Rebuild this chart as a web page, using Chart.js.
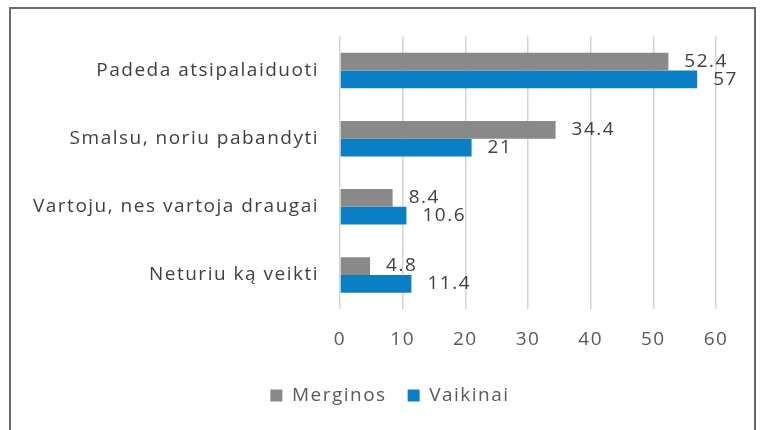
<!DOCTYPE html>
<html>
<head>
<meta charset="utf-8">
<script src="https://cdn.jsdelivr.net/npm/chart.js@4"></script>
<style>
html,body{margin:0;padding:0;background:#fff}
#wrap{position:relative;width:762px;height:430px;overflow:hidden}
#frame{position:absolute;left:9px;top:7px;width:747px;height:440px;border:2px solid #6a6a6a;box-sizing:border-box}
canvas{position:absolute;left:0;top:0}
</style>
</head>
<body>
<div id="wrap">
<div id="frame"></div>
<canvas id="chart" width="762" height="430"></canvas>
</div>
<script>
let categories=["Padeda atsipalaiduoti","Smalsu, noriu pabandyti","Vartoju, nes vartoja draugai","Neturiu ką veikti"]
let merginos=[52.4,34.4,8.4,4.8]
let vaikinai=[57,21,10.6,11.4]
let xTicks=[0,10,20,30,40,50,60]

let fontName="'Open Sans', sans-serif"
let spacing="1.5px"

// the original text is spaced wider, canvas state carries it
let wideText={
id:"wideText",
beforeLayout(chart){chart.ctx.letterSpacing=spacing},
beforeDraw(chart){chart.ctx.letterSpacing=spacing}
}

// labels at the bar ends
let barLabels={
id:"barLabels",
afterDatasetsDraw(chart){
let ctx=chart.ctx
ctx.save()
ctx.letterSpacing=spacing
ctx.font="19px "+fontName
ctx.fillStyle="#404040"
ctx.textAlign="left"
ctx.textBaseline="middle"
chart.data.datasets.forEach((ds,i)=>{
let meta=chart.getDatasetMeta(i)
meta.data.forEach((bar,j)=>{
ctx.fillText(String(ds.data[j]),bar.x+16,bar.y)
})
})
ctx.restore()
}
}

new Chart(document.getElementById("chart"),{
type:"bar",
data:{
labels:categories,
datasets:[
{label:"Merginos",data:merginos,backgroundColor:"#898989",categoryPercentage:0.52,barPercentage:1},
{label:"Vaikinai",data:vaikinai,backgroundColor:"#0a7fc4",categoryPercentage:0.52,barPercentage:1}
]
},
options:{
indexAxis:"y",
responsive:false,
animation:false,
layout:{padding:{top:36.5,right:0,left:18,bottom:15}},
scales:{
x:{
min:0,max:60,
afterBuildTicks(scale){scale.ticks=xTicks.map(v=>({value:v}))},
grid:{color:"#d4d4d4",lineWidth:1.5,drawTicks:false},
border:{display:false},
ticks:{color:"#595959",font:{family:fontName,size:19},padding:19},
afterFit(scale){scale.height=56}
},
y:{
grid:{display:false,drawTicks:false},
border:{display:false},
ticks:{color:"#404040",font:{family:fontName,size:19},padding:21},
afterFit(scale){scale.width=322}
},
// empty room on the right of the plot
side:{
type:"linear",
axis:"y",
position:"right",
grid:{display:false,drawTicks:false},
border:{display:false},
ticks:{display:false},
afterFit(scale){scale.width=46}
}
},
plugins:{
legend:{
position:"bottom",
labels:{boxWidth:12,boxHeight:12,color:"#595959",font:{family:fontName,size:19},padding:21}
},
tooltip:{enabled:false}
}
},
plugins:[wideText,barLabels]
})
</script>
</body>
</html>
